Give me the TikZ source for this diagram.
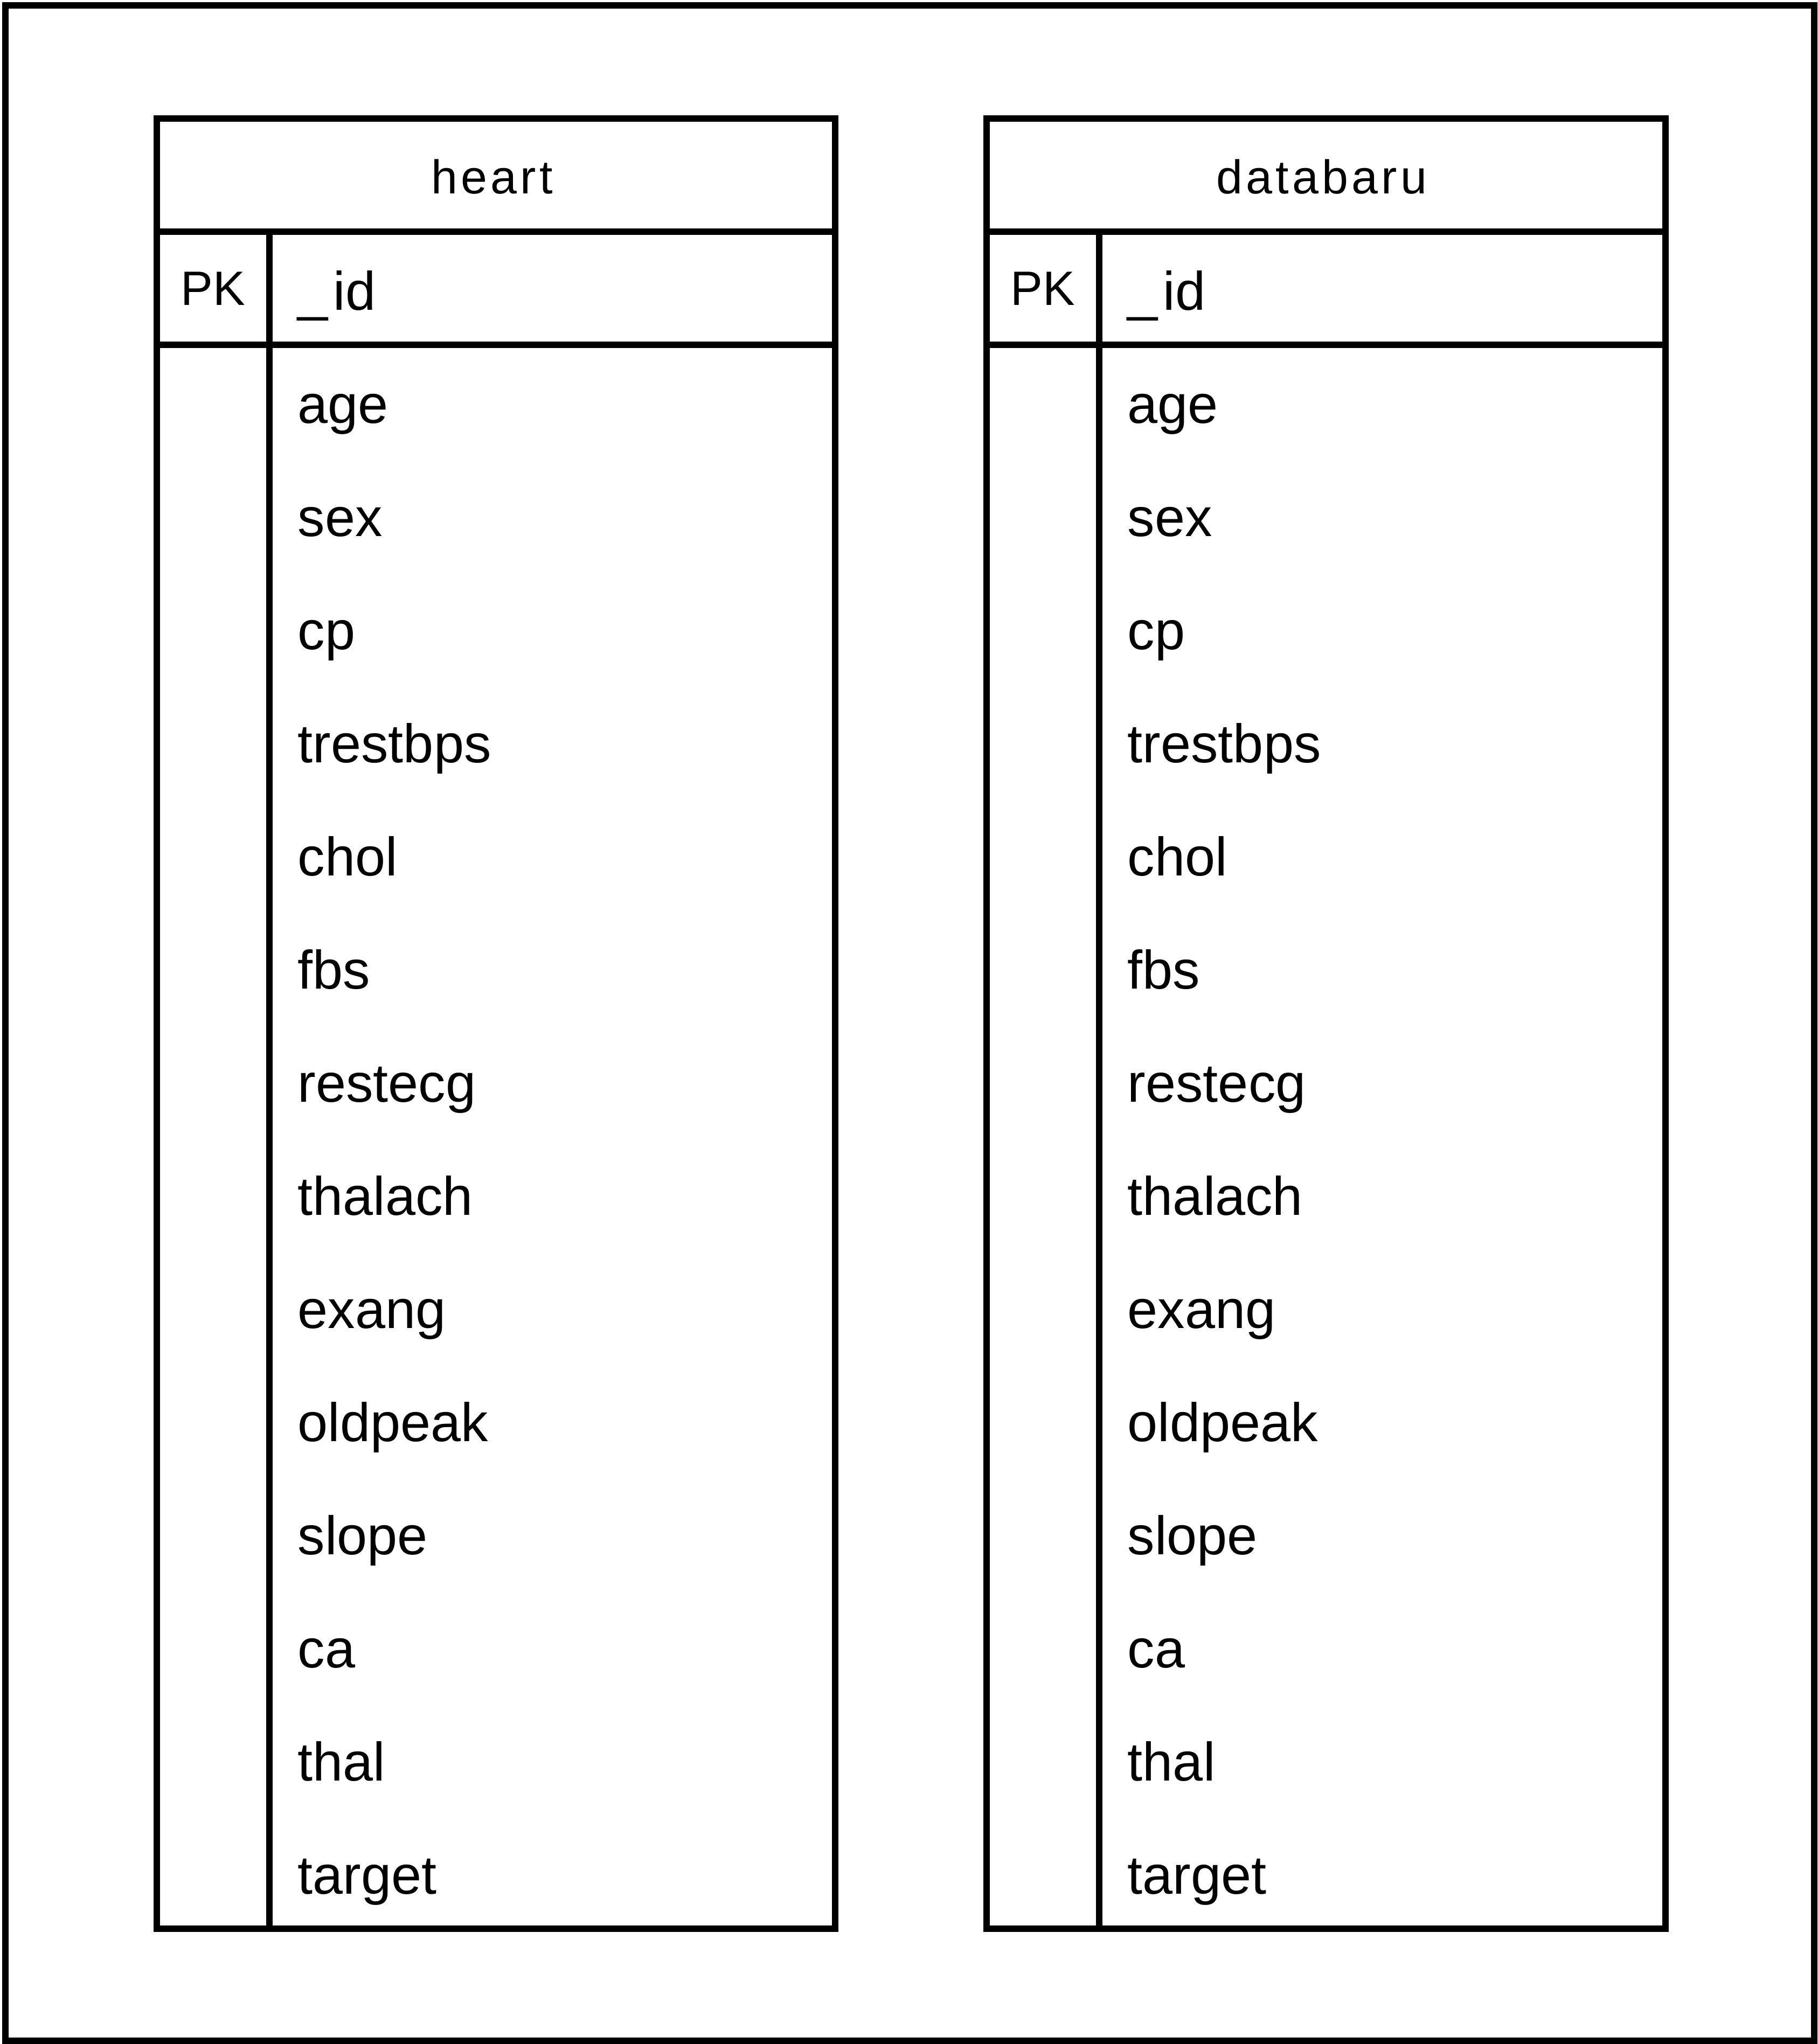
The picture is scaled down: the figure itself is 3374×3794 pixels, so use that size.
\documentclass[tikz,border=0pt]{standalone}
\usepackage{fontspec}
\setmainfont{Liberation Sans}
\begin{document}
\begin{tikzpicture}[x=0.24pt,y=-0.24pt,
  frame/.style={draw=black,line width=2.88pt},
  tblline/.style={draw=black,line width=2.88pt},
  fieldtxt/.style={anchor=base west,inner sep=0pt,font=\fontsize{24.2}{24.2}\selectfont},
  pktxt/.style={anchor=base,inner sep=0pt,font=\fontsize{21.5}{21.5}\selectfont},
  titletxt/.style={anchor=base,inner sep=0pt,font=\fontsize{21.1}{21.1}\selectfont\addfontfeature{LetterSpace=7}}]
\useasboundingbox (0,0) rectangle (3374,3794);
\draw[frame] (10,10) rectangle (3367,3788);
\foreach \L/\R/\D/\C/\P/\T/\n in {291/1550/500/913/395.5/heart/h, 1831/3091/2040/2453/1935.5/databaru/d}{
  \draw[tblline] (\L,220) rectangle (\R,3580);
  \draw[tblline] (\L,430) -- (\R,430);
  \draw[tblline] (\L,640) -- (\R,640);
  \draw[tblline] (\D,430) -- (\D,3580);
  \node[titletxt] (\n-title) at (\C,359) {\T};
  \node[pktxt] (\n-pk) at (\P,566) {PK};
  \node[fieldtxt] (\n-id) at (\D+52,575) {\_\kern2.4pt id};
  \foreach \f [count=\i from 0] in {age,sex,cp,trestbps,chol,fbs,restecg,thalach,exang,oldpeak,slope,ca,thal,target}{
    \node[fieldtxt] (\n-\f) at (\D+52,785+210*\i) {\f};
  }
}
\end{tikzpicture}
\end{document}
